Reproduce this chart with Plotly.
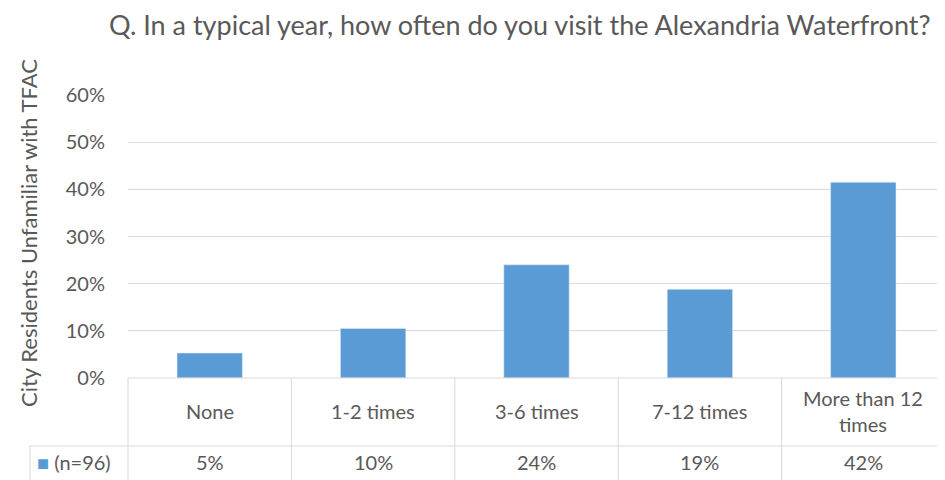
import plotly.graph_objects as go

categories = ["None", "1-2 times", "3-6 times", "7-12 times", "More than 12 times"]
category_labels = ["None", "1-2 times", "3-6 times", "7-12 times", "More than 12<br>times"]
values = [5.3, 10.5, 24.0, 18.8, 41.5]
series_name = "(n=96)"
y_ticks = [0, 10, 20, 30, 40, 50, 60]
y_tick_labels = ["0%", "10%", "20%", "30%", "40%", "50%", "60%"]
title = "Q. In a typical year, how often do you visit the Alexandria Waterfront?"
y_title = "City Residents Unfamiliar with TFAC"

OFF = 8  # page body margin
W, H = 945 - OFF, 480 - OFF
L, T = 128 - OFF, 95 - OFF
PLOT_BOTTOM = 378 - OFF
PLOT_RIGHT = 945 - OFF
R, B = W - PLOT_RIGHT, H - PLOT_BOTTOM
PW, PH = W - L - R, H - T - B
BAR = "#5B9BD5"
TXT = "#595959"
GRID = "#D9D9D9"
FONT = "Lato"

def py(px):  # page pixel y -> paper
    return (H - B - (px - OFF)) / PH

def pxx(px):  # page pixel x -> paper
    return ((px - OFF) - L) / PW

fig = go.Figure()
fig.add_trace(go.Bar(x=categories, y=values, marker_color=BAR, width=0.4, name=series_name))

ann = []
ann.append(dict(text=title, x=pxx(520), y=py(24), xref="paper", yref="paper",
                showarrow=False, font=dict(size=27, color=TXT, family=FONT), xanchor="center", yanchor="middle"))
ann.append(dict(text=y_title, x=pxx(28), y=py(233), xref="paper", yref="paper", textangle=-90,
                showarrow=False, font=dict(size=22, color=TXT, family=FONT), xanchor="center", yanchor="middle"))
for c, lab, v in zip(categories, category_labels, values):
    ann.append(dict(text=lab, x=c, y=py(411), xref="x", yref="paper", showarrow=False,
                    font=dict(size=20, color=TXT, family=FONT), xanchor="center", yanchor="middle"))
    ann.append(dict(text=f"{round(v)}%", x=c, y=py(462), xref="x", yref="paper", showarrow=False,
                    font=dict(size=20, color=TXT, family=FONT), xanchor="center", yanchor="middle"))
ann.append(dict(text=f"<span style='color:{BAR}'>■</span> {series_name}", x=pxx(35), y=py(462),
                xref="paper", yref="paper", showarrow=False, font=dict(size=20, color=TXT, family=FONT),
                xanchor="left", yanchor="middle"))

shapes = []
line = dict(color=GRID, width=1)
shapes.append(dict(type="line", xref="paper", yref="paper", x0=0, x1=1, y0=py(378), y1=py(378), line=line))
shapes.append(dict(type="line", xref="paper", yref="paper", x0=pxx(30), x1=1, y0=py(446), y1=py(446), line=line))
for k in range(len(categories) + 1):
    shapes.append(dict(type="line", xref="paper", yref="paper", x0=k / len(categories), x1=k / len(categories),
                       y0=py(378), y1=py(480), line=line))
shapes.append(dict(type="line", xref="paper", yref="paper", x0=pxx(30), x1=pxx(30),
                   y0=py(446), y1=py(480), line=line))

fig.update_layout(
    width=W, height=H, margin=dict(l=L, r=R, t=T, b=B),
    paper_bgcolor="white", plot_bgcolor="white", showlegend=False,
    annotations=ann, shapes=shapes,
    font=dict(family=FONT, color=TXT),
)
fig.update_xaxes(showticklabels=False, showgrid=False, zeroline=False, showline=False)
fig.update_yaxes(range=[0, 60], tickvals=y_ticks, ticktext=y_tick_labels, showgrid=True, gridcolor=GRID,
                 zeroline=False, showline=False, tickfont=dict(size=20, color=TXT, family=FONT),
                 ticklabelstandoff=22)
fig.write_html("out.html")
